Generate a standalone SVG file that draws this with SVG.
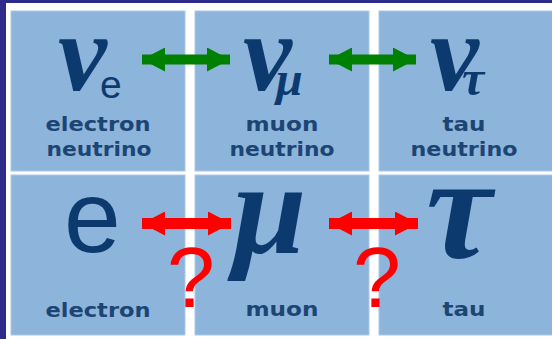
<svg xmlns="http://www.w3.org/2000/svg" width="552" height="339" viewBox="0 0 552 339">
<defs>
<style>
.cell{fill:#8db4da;stroke:#a9c8e8;stroke-width:1}
.lbl{font-family:"DejaVu Sans",sans-serif;font-size:20px;font-weight:bold;fill:#1d4574;text-anchor:middle}
.gr{font-family:"Liberation Serif",serif;font-style:italic;font-weight:bold;fill:#0d3a6e}
.sub{font-family:"Liberation Sans",sans-serif;fill:#0d3a6e}
.q{font-family:"Liberation Sans",sans-serif;font-size:86px;fill:#ff0000;text-anchor:middle}
.ga{stroke:#008000;stroke-width:10}
.ra{stroke:#ff0000;stroke-width:11}
</style>
<marker id="hg" markerUnits="userSpaceOnUse" markerWidth="23" markerHeight="24" refX="23" refY="12" orient="auto-start-reverse" viewBox="0 0 23 24"><path d="M0,0 L23,12 L0,24 z" fill="#008000"/></marker>
<marker id="hr" markerUnits="userSpaceOnUse" markerWidth="23" markerHeight="24" refX="23" refY="12" orient="auto-start-reverse" viewBox="0 0 23 24"><path d="M0,0 L23,12 L0,24 z" fill="#ff0000"/></marker>
</defs>
<rect x="0" y="0" width="552" height="339" fill="#ffffff"/>
<rect x="0" y="0" width="552" height="3" fill="#2e2b8a"/>
<rect x="0" y="0" width="6" height="339" fill="#2e2b8a"/>

<g id="nu_e">
<rect class="cell" x="11" y="11" width="174" height="160"/>
<text class="gr" x="58" y="90" font-size="110">ν</text>
<text class="sub" x="100" y="98" font-size="39">e</text>
<text class="lbl" x="98" y="131" textLength="105" lengthAdjust="spacingAndGlyphs">electron</text>
<text class="lbl" x="99" y="156" textLength="105" lengthAdjust="spacingAndGlyphs">neutrino</text>
</g>
<g id="nu_mu">
<rect class="cell" x="195" y="11" width="174" height="160"/>
<text class="gr" x="243" y="90" font-size="110">ν</text>
<text class="gr" x="276" y="95" font-size="48">μ</text>
<text class="lbl" x="282" y="131" textLength="73" lengthAdjust="spacingAndGlyphs">muon</text>
<text class="lbl" x="282" y="156" textLength="105" lengthAdjust="spacingAndGlyphs">neutrino</text>
</g>
<g id="nu_tau">
<rect class="cell" x="379" y="11" width="174" height="160"/>
<text class="gr" x="430" y="90" font-size="110">ν</text>
<text class="gr" x="462" y="95" font-size="50">τ</text>
<text class="lbl" x="464" y="131" textLength="43" lengthAdjust="spacingAndGlyphs">tau</text>
<text class="lbl" x="464" y="156" textLength="107" lengthAdjust="spacingAndGlyphs">neutrino</text>
</g>
<g id="electron">
<rect class="cell" x="11" y="175" width="174" height="160"/>
<text class="sub" x="64" y="252" font-size="102">e</text>
<text class="lbl" x="98" y="317" textLength="105" lengthAdjust="spacingAndGlyphs">electron</text>
</g>
<g id="muon">
<rect class="cell" x="195" y="175" width="174" height="160"/>
<text class="gr" x="233" y="253" font-size="132">μ</text>
<text class="lbl" x="282" y="316" textLength="73" lengthAdjust="spacingAndGlyphs">muon</text>
</g>
<g id="tau">
<rect class="cell" x="379" y="175" width="174" height="160"/>
<text class="gr" x="426" y="258" font-size="148">τ</text>
<text class="lbl" x="464" y="316" textLength="43" lengthAdjust="spacingAndGlyphs">tau</text>
</g>

<g id="connectors">
<line class="ga" x1="142" y1="59.5" x2="230" y2="59.5" marker-start="url(#hg)" marker-end="url(#hg)"/>
<line class="ga" x1="329" y1="59.5" x2="416" y2="59.5" marker-start="url(#hg)" marker-end="url(#hg)"/>
<line class="ra" x1="142" y1="223.5" x2="231" y2="223.5" marker-start="url(#hr)" marker-end="url(#hr)"/>
<line class="ra" x1="329" y1="223.5" x2="418" y2="223.5" marker-start="url(#hr)" marker-end="url(#hr)"/>
<text class="q" x="191" y="307">?</text>
<text class="q" x="377" y="307">?</text>
</g>
</svg>
